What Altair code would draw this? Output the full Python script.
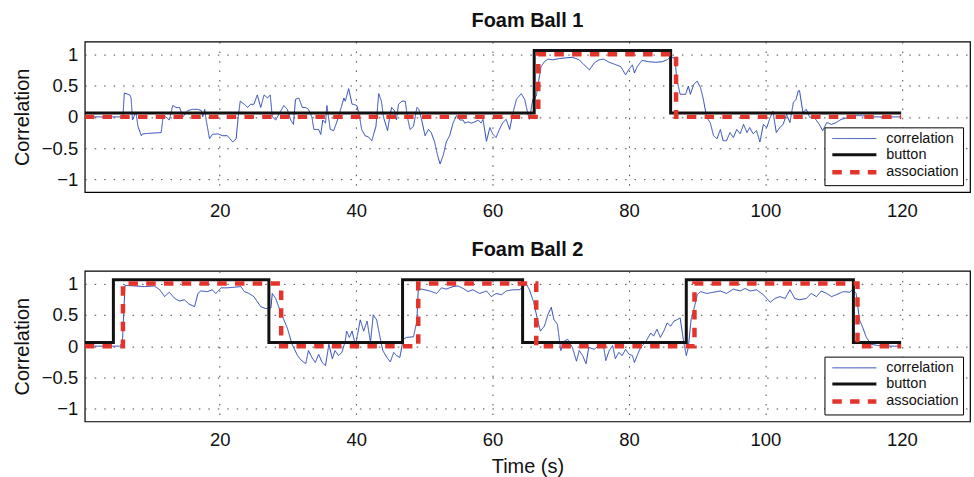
import altair as alt
import pandas as pd

# ---------------- data ----------------
series_names = ["correlation", "button", "association"]
series_colors = ["#2a45b5", "#111111", "#e3342b"]
series_widths = [1.0, 3.0, 4.5]
series_dashes = [[1, 0], [1, 0], [9.5, 8.3]]

panel_titles = ["Foam Ball 1", "Foam Ball 2"]
x_ticks = [20, 40, 60, 80, 100, 120]
y_ticks = [-1, -0.5, 0, 0.5, 1]

# Foam Ball 1 - correlation
corr1_t = [0.2, 5.8, 6.0, 6.8, 7.0, 7.2, 7.7, 8.0, 8.5, 8.7,
           11.4, 11.7, 12.1, 12.6, 13.1, 13.6, 14.1, 14.6, 15.3, 16.0,
           16.8, 17.3, 17.5, 17.8, 18.0, 18.5, 18.9, 19.7, 20.4, 21.1,
           21.9, 22.4, 22.7, 23.0, 23.6, 24.1, 24.5, 25.0, 25.5, 26.0,
           26.5, 27.0, 27.4, 27.7, 28.2, 28.7, 29.4, 29.9, 30.4, 30.8,
           31.1, 31.6, 32.1, 32.6, 33.0, 33.5, 33.8, 34.5, 34.8, 35.1,
           35.5, 35.7, 36.2, 36.7, 37.1, 37.4, 38.2, 38.4, 38.9, 39.4,
           39.6, 40.1, 40.5, 40.8, 41.3, 41.8, 42.3, 42.5, 42.9, 43.3,
           43.7, 44.0, 44.6, 45.0, 45.2, 45.6, 45.9, 46.2, 46.7, 47.2,
           47.5, 47.9, 48.4, 48.9, 49.2, 49.6, 50.1, 50.6, 51.0, 51.5,
           51.9, 52.3, 52.8, 53.2, 53.7, 54.2, 54.7, 55.2, 55.7, 55.9,
           56.4, 56.9, 57.4, 57.9, 58.3, 58.6, 59.1, 59.6, 60.0, 60.5,
           61.0, 61.5, 62.0, 62.5, 63.0, 63.5, 64.2, 64.7, 65.2, 65.4,
           65.9, 66.4, 66.8, 67.1, 67.6, 68.1, 68.8, 69.8, 70.7, 71.7,
           72.7, 73.4, 74.2, 74.9, 75.6, 76.3, 77.1, 78.1, 78.8, 79.5,
           80.0, 80.5, 80.8, 81.2, 81.9, 82.9, 83.9, 84.9, 85.6, 86.1,
           86.6, 86.8, 87.0, 87.5, 88.3, 88.7, 89.0, 89.5, 90.0, 90.5,
           90.9, 91.4, 91.9, 92.4, 92.9, 93.4, 93.8, 94.3, 94.8, 95.3,
           95.8, 96.3, 96.8, 97.3, 97.7, 98.2, 98.7, 99.2, 99.7, 100.2,
           100.7, 101.1, 101.6, 102.1, 102.6, 103.1, 103.6, 104.1, 104.5, 104.8,
           105.0, 105.5, 106.0, 106.5, 107.0, 107.5, 107.9, 108.4, 109.0, 109.7,
           110.4, 111.1, 112.1, 113.1, 114.0, 115.5, 117.4, 119.8]
corr1_v = [0.0, 0.0, 0.38, 0.35, 0.30, -0.05, 0.08, -0.15, -0.30, -0.27,
           -0.25, 0.0, 0.0, -0.05, 0.18, 0.15, 0.15, 0.0, 0.10, 0.12,
           0.12, 0.10, 0.0, 0.12, -0.05, -0.35, -0.28, -0.27, -0.30, -0.30,
           -0.40, -0.35, 0.0, 0.25, 0.20, 0.15, 0.20, 0.20, 0.35, 0.15,
           0.35, 0.30, 0.35, 0.0, -0.05, 0.05, 0.18, 0.12, -0.05, -0.12,
           0.28, 0.30, 0.15, 0.15, 0.12, 0.0, -0.20, -0.20, -0.28, -0.05,
           -0.10, 0.18, -0.20, -0.22, -0.10, 0.0, 0.30, 0.25, 0.45, 0.20,
           0.20, 0.18, 0.0, -0.20, -0.30, -0.32, -0.38, -0.30, -0.15, 0.37,
           0.25, 0.0, -0.22, 0.05, 0.15, 0.10, -0.05, 0.20, 0.25, 0.25,
           0.0, -0.20, -0.15, 0.15, 0.12, -0.05, -0.30, -0.20, -0.25, -0.40,
           -0.60, -0.75, -0.60, -0.40, -0.30, -0.10, 0.02, -0.05, -0.05, -0.10,
           -0.08, -0.10, -0.08, -0.05, -0.10, -0.04, -0.39, -0.17, -0.27, -0.33,
           -0.20, -0.09, -0.04, -0.20, 0.07, 0.28, 0.37, 0.28, 0.04, -0.04,
           0.28, 0.33, 0.60, 0.80, 0.88, 0.92, 0.91, 0.93, 0.94, 0.95,
           0.91, 0.83, 0.75, 0.86, 0.91, 0.92, 0.87, 0.83, 0.80, 0.67,
           0.76, 0.83, 0.70, 0.80, 0.90, 0.88, 0.87, 0.88, 0.91, 0.96,
           0.94, 0.86, 0.60, 0.36, 0.36, 0.49, 0.36, 0.52, 0.57, 0.46,
           0.28, -0.01, -0.09, -0.30, -0.35, -0.20, -0.38, -0.38, -0.25, -0.33,
           -0.20, -0.27, -0.12, -0.25, -0.17, -0.27, -0.22, -0.40, -0.12, -0.17,
           -0.01, 0.09, -0.25, -0.17, -0.12, 0.04, -0.09, 0.23, 0.28, 0.41,
           0.42, 0.07, 0.12, -0.01, 0.02, -0.06, -0.12, -0.22, -0.09, -0.12,
           -0.09, -0.04, -0.01, 0.02, 0.02, 0.0, 0.0, 0.0]
button1_t = [0.2, 66.1, 86.1, 119.9]
button1_v = [0.06, 1.06, 0.06, 0.06]
assoc1_t = [0.2, 66.7, 86.9, 119.9]
assoc1_v = [0.0, 1.0, 0.0, 0.0]

# Foam Ball 2 - correlation
corr2_t = [0.2, 5.7, 6.1, 7.5, 9.0, 10.4, 11.2, 11.9, 12.6, 13.4,
           14.1, 14.8, 15.5, 16.3, 16.8, 17.2, 18.2, 18.9, 19.4, 20.2,
           21.1, 22.1, 23.1, 23.6, 24.3, 25.0, 26.0, 26.7, 27.5, 27.7,
           28.2, 28.9, 29.9, 30.6, 31.4, 31.9, 32.6, 33.0, 33.5, 34.0,
           34.5, 35.0, 35.5, 36.0, 36.5, 36.9, 37.4, 37.9, 38.4, 38.6,
           39.0, 39.4, 39.9, 40.6, 41.1, 41.6, 42.1, 42.5, 43.0, 43.5,
           43.9, 44.5, 45.0, 45.5, 45.9, 46.4, 46.9, 47.4, 48.4, 48.9,
           49.1, 49.6, 50.8, 51.8, 52.5, 53.2, 54.2, 54.9, 55.7, 56.4,
           57.1, 58.1, 59.1, 59.8, 60.5, 61.3, 62.0, 63.0, 63.9, 64.4,
           64.9, 65.4, 66.0, 66.6, 67.0, 67.6, 68.1, 68.6, 69.0, 69.5,
           70.0, 70.5, 71.0, 71.7, 72.3, 72.7, 73.2, 73.7, 74.1, 74.9,
           75.6, 76.3, 76.6, 77.1, 77.6, 78.0, 78.5, 79.0, 79.5, 80.0,
           80.5, 80.8, 81.2, 81.7, 82.4, 83.2, 83.6, 84.1, 84.6, 85.1,
           85.6, 86.1, 86.6, 87.0, 87.5, 88.0, 88.4, 88.7, 89.1, 89.5,
           90.0, 90.5, 91.4, 92.4, 93.4, 94.3, 95.3, 96.3, 97.0, 97.8,
           98.7, 99.7, 100.7, 101.4, 102.1, 102.9, 103.6, 104.3, 105.0, 106.0,
           106.7, 107.5, 108.2, 109.0, 109.7, 110.4, 111.4, 112.4, 112.8, 113.3,
           113.8, 114.3, 114.8, 115.5, 116.5, 118.0, 119.8]
corr2_v = [0.0, 0.0, 0.97, 0.96, 0.95, 0.96, 0.90, 0.79, 0.86, 0.76,
           0.72, 0.74, 0.67, 0.63, 0.84, 0.88, 0.87, 0.90, 0.84, 0.93,
           0.93, 0.94, 0.95, 0.87, 0.84, 0.79, 0.63, 0.60, 0.61, 0.84,
           0.76, 0.55, 0.29, 0.03, -0.15, -0.22, -0.28, -0.07, -0.18, -0.26,
           -0.13, -0.26, -0.31, 0.03, -0.20, -0.07, -0.15, -0.10, 0.08, 0.24,
           0.14, 0.24, 0.01, 0.42, 0.24, 0.40, 0.06, 0.50, 0.42, 0.14,
           -0.07, -0.18, -0.25, -0.10, -0.15, -0.18, 0.11, 0.14, 0.15, 0.40,
           0.90, 0.91, 0.88, 0.84, 0.93, 0.91, 0.95, 0.96, 0.92, 0.87,
           0.90, 0.84, 0.88, 0.79, 0.84, 0.82, 0.88, 0.90, 0.90, 0.93,
           1.00, 0.90, 0.71, 0.42, 0.24, 0.32, 0.50, 0.62, 0.42, 0.35,
           -0.07, 0.08, 0.11, -0.02, -0.24, -0.07, -0.15, -0.28, -0.02, -0.05,
           0.01, -0.02, -0.23, -0.07, 0.01, -0.20, -0.10, -0.15, -0.05, -0.13,
           -0.15, -0.26, -0.15, -0.02, 0.06, 0.21, 0.16, 0.27, 0.14, 0.24,
           0.37, 0.32, 0.40, 0.42, 0.45, 0.08, -0.15, -0.02, 0.42, 0.58,
           0.82, 0.87, 0.84, 0.86, 0.88, 0.84, 0.91, 0.88, 0.92, 0.88,
           0.90, 0.82, 0.70, 0.76, 0.79, 0.76, 0.90, 0.76, 0.74, 0.76,
           0.84, 0.79, 0.88, 0.84, 0.79, 0.82, 0.87, 0.86, 0.91, 0.84,
           0.42, 0.29, 0.14, 0.03, 0.01, 0.0, 0.0]
button2_t = [0.2, 4.4, 27.2, 46.8, 64.4, 88.4, 112.9, 119.9]
button2_v = [0.06, 1.06, 0.06, 1.06, 0.06, 1.06, 0.06, 0.06]
assoc2_t = [0.2, 5.8, 29.0, 49.1, 66.4, 89.6, 113.5, 119.9]
assoc2_v = [0.0, 1.0, 0.0, 1.0, 0.0, 1.0, 0.0, 0.0]

FONT = "Liberation Sans"


def make_df(ct, cv, bt, bv, at, av):
    assert len(ct) == len(cv) and len(bt) == len(bv) and len(at) == len(av)
    rows = []
    for t, v in zip(ct, cv):
        rows.append({"t": t, "v": v, "series": "correlation"})
    for t, v in zip(bt, bv):
        rows.append({"t": t, "v": v, "series": "button"})
    for t, v in zip(at, av):
        rows.append({"t": t, "v": v, "series": "association"})
    return pd.DataFrame(rows)


legend = alt.Legend(
    title=None,
    orient="bottom-right",
    offset=7,
    strokeColor="black",
    fillColor="white",
    padding=4,
    rowPadding=1.5,
    labelFont=FONT,
    labelFontSize=14.5,
    labelColor="#111111",
    symbolType="M-3.4,0H3.4",
    symbolSize=169,
    symbolOffset=17,
    labelOffset=23,
)


def panel(df, title, show_x_title):
    xaxis_kw = dict(values=x_ticks, labelPadding=9, titlePadding=8)
    if show_x_title:
        xaxis_kw["title"] = "Time (s)"
    else:
        xaxis_kw["title"] = None
    x = alt.X("t:Q", scale=alt.Scale(domain=[0.2, 130], nice=False, zero=False),
              axis=alt.Axis(**xaxis_kw))
    y = alt.Y("v:Q", scale=alt.Scale(domain=[-1.2, 1.2], nice=False),
              axis=alt.Axis(values=y_ticks, format="~g", title="Correlation",
                            labelPadding=7, titlePadding=9))
    enc = dict(
        x=x, y=y,
        color=alt.Color("series:N", scale=alt.Scale(domain=series_names, range=series_colors), legend=legend),
        strokeDash=alt.StrokeDash("series:N", scale=alt.Scale(domain=series_names, range=series_dashes), legend=legend),
        strokeWidth=alt.StrokeWidth("series:N", scale=alt.Scale(type="ordinal", domain=series_names, range=series_widths), legend=legend),
    )
    layers = []
    for name in series_names:
        interp = "linear" if name == "correlation" else "step-after"
        layers.append(
            alt.Chart().mark_line(interpolate=interp, clip=True)
            .encode(**enc)
            .transform_filter(alt.datum.series == name)
        )
    return alt.layer(*layers, data=df).properties(
        width=888, height=151,
        title=alt.Title(title, fontSize=20, font=FONT, fontWeight="bold",
                        anchor="middle", offset=-5, baseline="alphabetic", color="#111111"),
    )


p1 = panel(make_df(corr1_t, corr1_v, button1_t, button1_v, assoc1_t, assoc1_v), panel_titles[0], False)
p2 = panel(make_df(corr2_t, corr2_v, button2_t, button2_v, assoc2_t, assoc2_v), panel_titles[1], True)

chart = (
    alt.vconcat(p1, p2, spacing=18)
    .resolve_scale(color="independent", strokeDash="independent", strokeWidth="independent")
    .resolve_legend(color="independent", strokeDash="independent", strokeWidth="independent")
    .properties(padding={"left": 11, "top": 9, "right": 3, "bottom": 0}, background="white")
    .configure_view(stroke="black", strokeWidth=1.2)
    .configure_axis(
        domain=False, ticks=False,
        grid=True, gridDash=[1.5, 8], gridColor="#333333", gridOpacity=0.9, gridWidth=1,
        labelFont=FONT, labelFontSize=18.5, labelColor="#111111",
        titleFont=FONT, titleFontSize=20, titleFontWeight="normal", titleColor="#111111",
    )
)

chart.save("out.html", embed_options={"renderer": "svg", "actions": False})
